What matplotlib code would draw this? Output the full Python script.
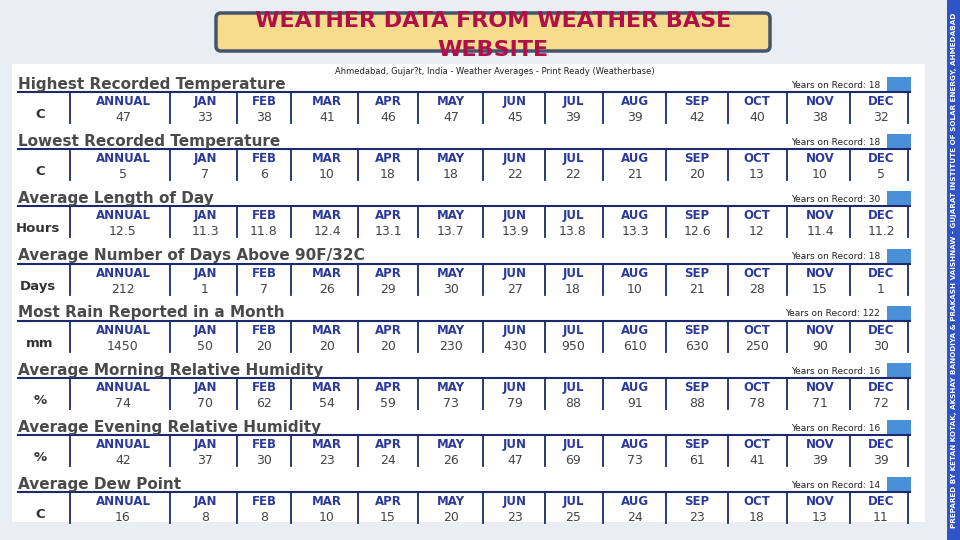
import matplotlib.pyplot as plt
from matplotlib.patches import FancyBboxPatch, Rectangle

months = ["ANNUAL", "JAN", "FEB", "MAR", "APR", "MAY", "JUN",
          "JUL", "AUG", "SEP", "OCT", "NOV", "DEC"]
titles = ["Highest Recorded Temperature", "Lowest Recorded Temperature",
          "Average Length of Day", "Average Number of Days Above 90F/32C",
          "Most Rain Reported in a Month", "Average Morning Relative Humidity",
          "Average Evening Relative Humidity", "Average Dew Point"]
units = ["C", "C", "Hours", "Days", "mm", "%", "%", "C"]
years = [18, 18, 30, 18, 122, 16, 16, 14]
high_temp = [47, 33, 38, 41, 46, 47, 45, 39, 39, 42, 40, 38, 32]
low_temp = [5, 7, 6, 10, 18, 18, 22, 22, 21, 20, 13, 10, 5]
day_length = [12.5, 11.3, 11.8, 12.4, 13.1, 13.7, 13.9, 13.8, 13.3, 12.6, 12, 11.4, 11.2]
days_above = [212, 1, 7, 26, 29, 30, 27, 18, 10, 21, 28, 15, 1]
max_rain = [1450, 50, 20, 20, 20, 230, 430, 950, 610, 630, 250, 90, 30]
morning_rh = [74, 70, 62, 54, 59, 73, 79, 88, 91, 88, 78, 71, 72]
evening_rh = [42, 37, 30, 23, 24, 26, 47, 69, 73, 61, 41, 39, 39]
dew_point = [16, 8, 8, 10, 15, 20, 23, 25, 24, 23, 18, 13, 11]
rows = [high_temp, low_temp, day_length, days_above, max_rain, morning_rh, evening_rh, dew_point]

W, H = 960, 540
fig = plt.figure(figsize=(9.6, 5.4), dpi=100)
ax = fig.add_axes([0, 0, 1, 1])
ax.set_xlim(0, W)
ax.set_ylim(H, 0)
ax.axis("off")
fig.patch.set_facecolor("#e9eef4")

# table panel
ax.add_patch(Rectangle((12, 64), 913, 458, facecolor="white", edgecolor="none"))
ax.text(495, 71, "Ahmedabad, Gujar?t, India - Weather Averages - Print Ready (Weatherbase)",
        fontsize=6, ha="center", va="center", color="#222")

xc = [123, 205, 264, 327, 388, 451, 515, 573, 635, 697, 757, 820, 881]
seps = [70, 170, 237, 291, 358, 418, 483, 545, 603, 666, 728, 787, 850, 908]
navy = "#1a2a6c"
for i, (t, u, yr, vals) in enumerate(zip(titles, units, years, rows)):
    y0 = 84 + i * 57.2
    ax.text(18, y0, t, fontsize=11, fontweight="bold", color="#4a4a4a", va="center")
    ax.text(880, y0 + 1, f"Years on Record: {yr}", fontsize=6.5, color="#222", ha="right", va="center")
    ax.add_patch(Rectangle((887, y0 - 7), 24, 14, facecolor="#4a90d9", edgecolor="none"))
    ax.plot([18, 910], [y0 + 8, y0 + 8], color=navy, lw=1.5)
    for s in seps:
        ax.plot([s, s], [y0 + 9, y0 + 39], color=navy, lw=1.3)
    ax.text(40 if len(u) < 3 else 38, y0 + 29, u, fontsize=9.5, fontweight="bold",
            color="#333", ha="center", va="center_baseline")
    for x, m, v in zip(xc, months, vals):
        ax.text(x, y0 + 16, m, fontsize=8.5, fontweight="bold", color="#2b3a9a",
                ha="center", va="center_baseline")
        ax.text(x, y0 + 32, str(v), fontsize=9, color="#444", ha="center", va="center_baseline")

# title box
ax.add_patch(FancyBboxPatch((216, 13), 554, 38, boxstyle="round,pad=0,rounding_size=5",
                            facecolor="#f6dc8c", edgecolor="#44546a", lw=2.5))
ax.text(493, 21, "WEATHER DATA FROM WEATHER BASE", fontsize=16, fontweight="bold",
        color="#b0104a", ha="center", va="center", family="Liberation Sans Narrow")
ax.text(493, 50, "WEBSITE", fontsize=16, fontweight="bold", color="#b0104a",
        ha="center", va="center", family="Liberation Sans Narrow")

# right strip
ax.add_patch(Rectangle((947, 0), 13, H, facecolor="#2f54c6", edgecolor="none"))
ax.text(954, 270, "PREPARED BY KETAN KOTAK, AKSHAY BANODIYA & PRAKASH VAISHNAW - GUJARAT INSTITUTE OF SOLAR ENERGY, AHMEDABAD",
        rotation=90, fontsize=5.2, color="white", ha="center", va="center", fontweight="bold")

fig.savefig("out.png", dpi=100)
